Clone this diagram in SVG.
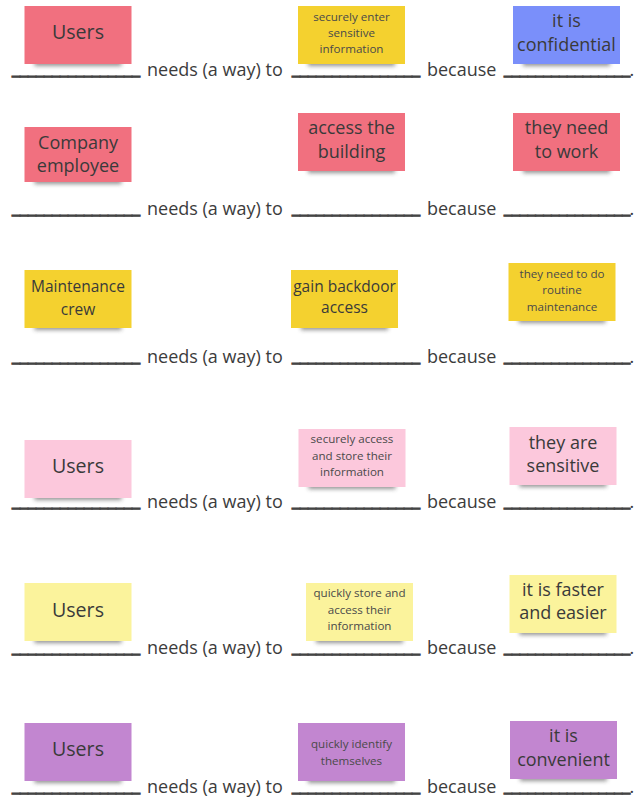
<svg xmlns="http://www.w3.org/2000/svg" width="635" height="799" viewBox="0 0 635 799">
<defs>
<filter id="blur" x="-30%" y="-100%" width="160%" height="300%"><feGaussianBlur stdDeviation="2.2"/></filter>
<style>
.bg{fill:#ffffff}
.sh{fill:#3a3a3a;opacity:.55;filter:url(#blur)}
.red{fill:#F1707F}
.yel{fill:#F4D12F}
.blue{fill:#7A8FFA}
.lpink{fill:#FCC8DC}
.lyel{fill:#FBF39C}
.purp{fill:#C286D0}
.n{font-family:"Open Sans","Noto Sans",sans-serif;fill:#3a3a3a;text-anchor:middle;font-size:18px}
.big{font-size:19.6px}
.mid{font-size:15.5px}
.sm{font-size:11.6px;fill:#4a4a4a}
.t{font-family:"Open Sans","Noto Sans",sans-serif;fill:#3c3c3c;font-size:18px}
.u{font-family:"Open Sans","Noto Sans",sans-serif;fill:#444;stroke:#444;stroke-width:1.2;font-size:18px}
</style>
</defs>
<rect class="bg" width="635" height="799"/>

<!-- Row 1 -->
<g id="r1-who" transform="translate(24.5,6)">
<rect class="sh" x="10" y="49" width="87" height="11"/>
<rect class="red" width="107" height="58"/>
<text class="n big" x="53.5" y="33">Users</text>
</g>
<g id="r1-what" transform="translate(298,6)">
<rect class="sh" x="10" y="49" width="87" height="11"/>
<rect class="yel" width="107" height="58"/>
<text class="n sm" x="53.5" y="14.5">securely enter</text>
<text class="n sm" x="53.5" y="30.5">sensitive</text>
<text class="n sm" x="53.5" y="46.5">information</text>
</g>
<g id="r1-why" transform="translate(513,6)">
<rect class="sh" x="10" y="49" width="87" height="11"/>
<rect class="blue" width="107" height="58"/>
<text class="n" x="53.5" y="21">it is</text>
<text class="n" x="53.5" y="44.5">confidential</text>
</g>

<!-- Row 2 -->
<g id="r2-who" transform="translate(24.5,127)">
<rect class="sh" x="10" y="46" width="87" height="11"/>
<rect class="red" width="107" height="55"/>
<text class="n" x="53.5" y="21.5">Company</text>
<text class="n" x="53.5" y="45">employee</text>
</g>
<g id="r2-what" transform="translate(298,113)">
<rect class="sh" x="10" y="49" width="87" height="11"/>
<rect class="red" width="107" height="58"/>
<text class="n" x="53.5" y="21">access the</text>
<text class="n" x="53.5" y="45">building</text>
</g>
<g id="r2-why" transform="translate(513,113)">
<rect class="sh" x="10" y="49" width="87" height="11"/>
<rect class="red" width="107" height="58"/>
<text class="n" x="53.5" y="21">they need</text>
<text class="n" x="53.5" y="45">to work</text>
</g>

<!-- Row 3 -->
<g id="r3-who" transform="translate(24.5,270)">
<rect class="sh" x="10" y="49" width="87" height="11"/>
<rect class="yel" width="107" height="58"/>
<text class="n mid" x="53.5" y="22">Maintenance</text>
<text class="n mid" x="53.5" y="45">crew</text>
</g>
<g id="r3-what" transform="translate(291,270)">
<rect class="sh" x="10" y="49" width="87" height="11"/>
<rect class="yel" width="107" height="58"/>
<text class="n mid" x="53.5" y="22">gain backdoor</text>
<text class="n mid" x="53.5" y="43">access</text>
</g>
<g id="r3-why" transform="translate(508.5,263)">
<rect class="sh" x="10" y="49" width="87" height="11"/>
<rect class="yel" width="107" height="58"/>
<text class="n sm" x="53.5" y="14.5">they need to do</text>
<text class="n sm" x="53.5" y="31">routine</text>
<text class="n sm" x="53.5" y="47.5">maintenance</text>
</g>

<!-- Row 4 -->
<g id="r4-who" transform="translate(24.5,440)">
<rect class="sh" x="10" y="49" width="87" height="11"/>
<rect class="lpink" width="107" height="58"/>
<text class="n big" x="53.5" y="33">Users</text>
</g>
<g id="r4-what" transform="translate(298.5,429)">
<rect class="sh" x="10" y="49" width="87" height="11"/>
<rect class="lpink" width="107" height="58"/>
<text class="n sm" x="53.5" y="14">securely access</text>
<text class="n sm" x="53.5" y="30.5">and store their</text>
<text class="n sm" x="53.5" y="47">information</text>
</g>
<g id="r4-why" transform="translate(509.5,427)">
<rect class="sh" x="10" y="49" width="87" height="11"/>
<rect class="lpink" width="107" height="58"/>
<text class="n" x="53.5" y="21.5">they are</text>
<text class="n" x="53.5" y="45">sensitive</text>
</g>

<!-- Row 5 -->
<g id="r5-who" transform="translate(24.5,583)">
<rect class="sh" x="10" y="49" width="87" height="11"/>
<rect class="lyel" width="107" height="58"/>
<text class="n big" x="53.5" y="33.5">Users</text>
</g>
<g id="r5-what" transform="translate(306,583)">
<rect class="sh" x="10" y="49" width="87" height="11"/>
<rect class="lyel" width="107" height="58"/>
<text class="n sm" x="53.5" y="14">quickly store and</text>
<text class="n sm" x="53.5" y="30.5">access their</text>
<text class="n sm" x="53.5" y="47">information</text>
</g>
<g id="r5-why" transform="translate(509.5,575)">
<rect class="sh" x="10" y="49" width="87" height="11"/>
<rect class="lyel" width="107" height="58"/>
<text class="n" x="53.5" y="20.5">it is faster</text>
<text class="n" x="53.5" y="44">and easier</text>
</g>

<!-- Row 6 -->
<g id="r6-who" transform="translate(24.5,723)">
<rect class="sh" x="10" y="49" width="87" height="11"/>
<rect class="purp" width="107" height="58"/>
<text class="n big" x="53.5" y="33">Users</text>
</g>
<g id="r6-what" transform="translate(298,723)">
<rect class="sh" x="10" y="49" width="87" height="11"/>
<rect class="purp" width="107" height="58"/>
<text class="n sm" x="53.5" y="25">quickly identify</text>
<text class="n sm" x="53.5" y="41.5">themselves</text>
</g>
<g id="r6-why" transform="translate(510,721)">
<rect class="sh" x="10" y="49" width="87" height="11"/>
<rect class="purp" width="107" height="58"/>
<text class="n" x="53.5" y="21">it is</text>
<text class="n" x="53.5" y="45">convenient</text>
</g>

<!-- Sentence template lines -->
<g id="sentences">
<g transform="translate(0,76)">
<text class="u" x="12" y="-2" textLength="128" lengthAdjust="spacingAndGlyphs">________________</text>
<text class="t" x="147" y="0">needs (a way) to</text>
<text class="u" x="292" y="-2" textLength="128" lengthAdjust="spacingAndGlyphs">________________</text>
<text class="t" x="427" y="0">because</text>
<text class="u" x="504" y="-2" textLength="126" lengthAdjust="spacingAndGlyphs">________________</text>
<text class="t" x="629.5" y="0">.</text>
</g>
<g transform="translate(0,214.5)">
<text class="u" x="12" y="-2" textLength="128" lengthAdjust="spacingAndGlyphs">________________</text>
<text class="t" x="147" y="0">needs (a way) to</text>
<text class="u" x="292" y="-2" textLength="128" lengthAdjust="spacingAndGlyphs">________________</text>
<text class="t" x="427" y="0">because</text>
<text class="u" x="504" y="-2" textLength="126" lengthAdjust="spacingAndGlyphs">________________</text>
<text class="t" x="629.5" y="0">.</text>
</g>
<g transform="translate(0,363)">
<text class="u" x="12" y="-2" textLength="128" lengthAdjust="spacingAndGlyphs">________________</text>
<text class="t" x="147" y="0">needs (a way) to</text>
<text class="u" x="292" y="-2" textLength="128" lengthAdjust="spacingAndGlyphs">________________</text>
<text class="t" x="427" y="0">because</text>
<text class="u" x="504" y="-2" textLength="126" lengthAdjust="spacingAndGlyphs">________________</text>
<text class="t" x="629.5" y="0">.</text>
</g>
<g transform="translate(0,508)">
<text class="u" x="12" y="-2" textLength="128" lengthAdjust="spacingAndGlyphs">________________</text>
<text class="t" x="147" y="0">needs (a way) to</text>
<text class="u" x="292" y="-2" textLength="128" lengthAdjust="spacingAndGlyphs">________________</text>
<text class="t" x="427" y="0">because</text>
<text class="u" x="504" y="-2" textLength="126" lengthAdjust="spacingAndGlyphs">________________</text>
<text class="t" x="629.5" y="0">.</text>
</g>
<g transform="translate(0,653.5)">
<text class="u" x="12" y="-2" textLength="128" lengthAdjust="spacingAndGlyphs">________________</text>
<text class="t" x="147" y="0">needs (a way) to</text>
<text class="u" x="292" y="-2" textLength="128" lengthAdjust="spacingAndGlyphs">________________</text>
<text class="t" x="427" y="0">because</text>
<text class="u" x="504" y="-2" textLength="126" lengthAdjust="spacingAndGlyphs">________________</text>
<text class="t" x="629.5" y="0">.</text>
</g>
<g transform="translate(0,792.5)">
<text class="u" x="12" y="-2" textLength="128" lengthAdjust="spacingAndGlyphs">________________</text>
<text class="t" x="147" y="0">needs (a way) to</text>
<text class="u" x="292" y="-2" textLength="128" lengthAdjust="spacingAndGlyphs">________________</text>
<text class="t" x="427" y="0">because</text>
<text class="u" x="504" y="-2" textLength="126" lengthAdjust="spacingAndGlyphs">________________</text>
<text class="t" x="629.5" y="0">.</text>
</g>
</g>
</svg>
